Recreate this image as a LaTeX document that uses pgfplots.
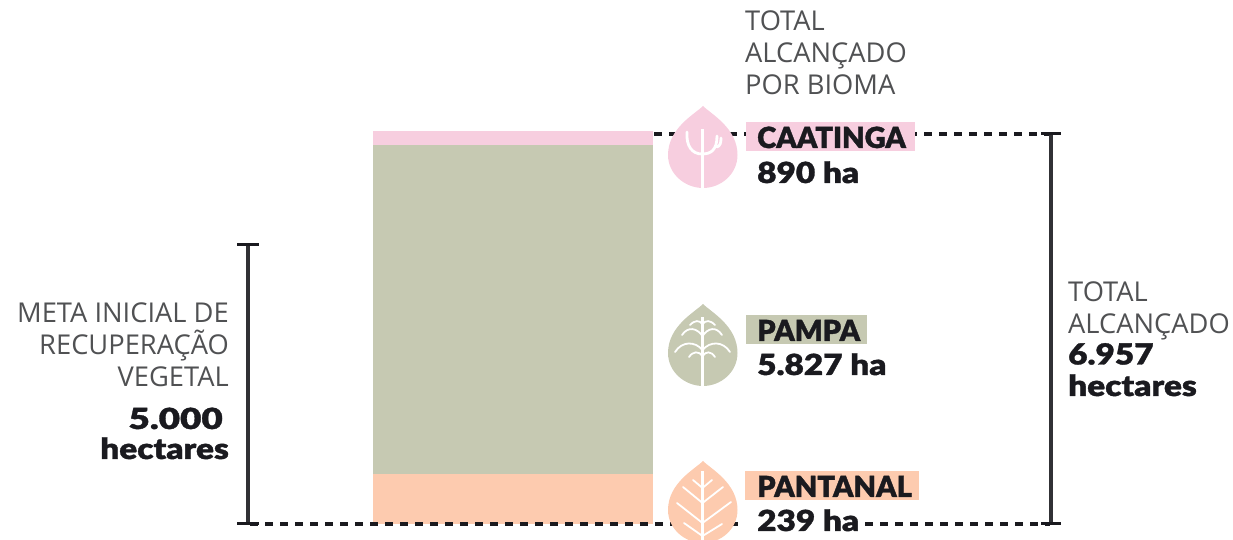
\documentclass[border=0pt]{standalone}
\usepackage{pgfplots}
\pgfplotsset{compat=1.18}
\usepackage{fontspec}
\setmainfont{Open Sans}
\newfontfamily\blk[FakeBold=1.2]{Lato Black}
\newfontfamily\blkw[FakeBold=1.2,FakeStretch=1.15]{Lato Black}
\newfontfamily\blkx[FakeBold=1.2,FakeStretch=1.27]{Lato Black}
\definecolor{cpink}{HTML}{F7CEDF}
\definecolor{colive}{HTML}{C6C9B2}
\definecolor{cpeach}{HTML}{FDCBAF}
\definecolor{cdark}{HTML}{1A1A1F}
\definecolor{cgray}{HTML}{505153}
\newcommand\leaf[2]{\fill[#1] (703,#2) .. controls (711,#2+8) and (737.5,#2+22) .. (737.5,#2+49) .. controls (737.5,#2+68) and (721,#2+82) .. (703,#2+82) .. controls (685,#2+82) and (668,#2+68) .. (668,#2+49) .. controls (668,#2+22) and (695,#2+8) .. cycle;}
\newcommand\gl[4][]{\node[anchor=base #1,text=cgray,font=\fontsize{27.3}{27.3}\selectfont,inner sep=0pt] at (#2,#3) {#4};}
\newcommand\bl[4][]{\node[anchor=base #1,text=cdark,font=\fontsize{29}{29}\blk,inner sep=0pt] at (#2,#3) {#4};}
\newcommand\bw[4][]{\node[anchor=base #1,text=cdark,font=\fontsize{29}{29}\blkw,inner sep=0pt] at (#2,#3) {#4};}
\newcommand\bx[4][]{\node[anchor=base #1,text=cdark,font=\fontsize{29}{29}\blkx,inner sep=0pt] at (#2,#3) {#4};}
\begin{document}
\begin{tikzpicture}
\path[use as bounding box] (0,0) rectangle (1233pt,540pt);
\begin{axis}[at={(0,0)},anchor=south west,scale only axis,width=1233pt,height=540pt,hide axis,
  xmin=0,xmax=1233,ymin=-283.2,ymax=9276,ybar stacked,bar width=280]
\addplot[fill=cpeach,draw=none] coordinates {(513,890)};
\addplot[fill=colive,draw=none] coordinates {(513,5827)};
\addplot[fill=cpink,draw=none] coordinates {(513,239)};
\end{axis}
\begin{axis}[at={(0,0)},anchor=south west,scale only axis,width=1233pt,height=540pt,hide axis,
  xmin=0,xmax=1233,ymin=-283.2,ymax=9276]
\addplot[cdark,line width=3.2pt,dash pattern=on 8pt off 7pt] coordinates {(654,6904)(1050,6904)};
\addplot[cdark,line width=3.2pt,dash pattern=on 8pt off 7pt] coordinates {(250,0)(1050,0)};
\addplot[cdark!90!white,line width=3.4pt] coordinates {(248,0)(248,4939)};
\addplot[cdark,line width=3pt] coordinates {(237,0)(259,0)};
\addplot[cdark,line width=3pt] coordinates {(237,4939)(259,4939)};
\addplot[cdark!90!white,line width=3.4pt] coordinates {(1051,0)(1051,6904)};
\addplot[cdark,line width=3pt] coordinates {(1041,0)(1061,0)};
\addplot[cdark,line width=3pt] coordinates {(1041,6904)(1061,6904)};
\end{axis}
\begin{scope}[x=1pt,y=-1pt,yshift=540pt]
\clip (0,0) rectangle (1233,540);
% label boxes
\fill[cpink] (746,122) rectangle (915,151);
\fill[colive] (746,315) rectangle (867,344);
\fill[cpeach] (745,471) rectangle (919,500);
\fill[white] (745,505) rectangle (861,535);
% leaves
\leaf{cpink}{106}
\leaf{colive}{304}
\leaf{cpeach}{461}
\begin{scope}[white,line width=2.8pt,line cap=round]
\draw[line width=3.2pt,line cap=butt] (702.5,129) -- (702.5,188);
\draw (687,132) .. controls (686,146) and (692,154) .. (702,154);
\draw (702,154) .. controls (711,154) and (717,150) .. (717,136);
\draw (717,147) .. controls (720,146) and (721,143) .. (721,138);
\end{scope}
\begin{scope}[white,line width=1.8pt,line cap=round]
\draw[line width=2.4pt,line cap=butt] (702.5,317) -- (702.5,386);
\draw (690,325) .. controls (695,320) and (699,320) .. (702.5,324) .. controls (706,320) and (710,320) .. (715,325);
\draw (682,335) .. controls (688,326) and (697,328) .. (702.5,336) .. controls (708,328) and (716,326) .. (722,335);
\draw (675,352) .. controls (682,341) and (695,341) .. (702.5,350) .. controls (710,341) and (723,341) .. (730,352);
\draw (689,357) .. controls (693,351) and (699,351) .. (702.5,356) .. controls (706,351) and (711,351) .. (715,357);
\end{scope}
\begin{scope}[white,line width=1.8pt,line cap=round]
\draw[line width=2.4pt,line cap=butt] (702.5,471) -- (702.5,540);
\draw (693,480) -- (702.5,488) -- (712,480);
\draw (683,487) -- (702.5,503) -- (723,487);
\draw (677,503) -- (702.5,523) -- (731,502);
\draw (684,523) -- (702.5,536) -- (722,524);
\end{scope}
% grey text
\gl[west]{745}{30.5}{TOTAL}
\gl[west]{745}{62.5}{ALCANÇADO}
\gl[west]{745}{94.5}{POR BIOMA}
\gl[east]{229}{323}{META INICIAL DE}
\gl[east]{229}{355}{RECUPERAÇÃO}
\gl[east]{229}{387}{VEGETAL}
\gl[west]{1068}{301.5}{TOTAL}
\gl[west]{1068}{333.5}{ALCANÇADO}
% bold text
\bx[east]{223}{429}{5.000}
\bw[east]{229}{459}{hectares}
\bw[west]{1068}{364.5}{6.957}
\bw[west]{1068}{396}{hectares}
\bl[west]{757}{148}{CAATINGA}
\bw[west]{757}{183}{890 ha}
\bl[west]{757}{341}{PAMPA}
\bw[west]{757}{375}{5.827 ha}
\bl[west]{757}{497}{PANTANAL}
\bw[west]{757}{531}{239 ha}
\end{scope}
\end{tikzpicture}
\end{document}
